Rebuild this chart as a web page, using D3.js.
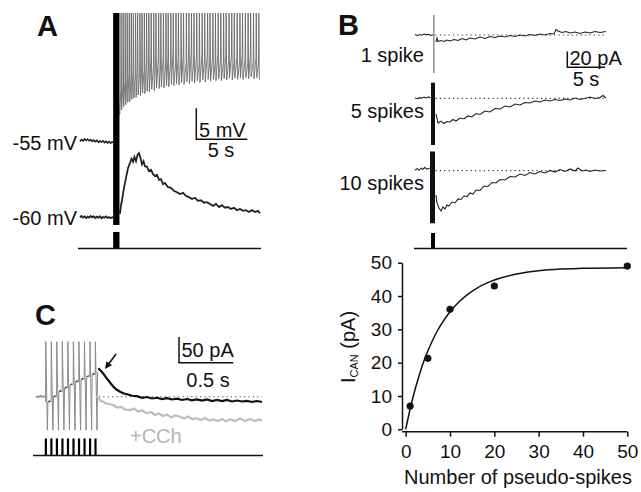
<!DOCTYPE html>
<html>
<head>
<meta charset="utf-8">
<script src="https://cdn.jsdelivr.net/npm/d3@7"></script>
<style>
  body { margin: 0; background: #fff; }
  svg text { font-family: "Liberation Sans", Arial, Helvetica, sans-serif; }
</style>
</head>
<body>
<script>
// ---- panel A : current clamp, time in s, voltage in mV
var aStim = [3.25, 3.87];
var aUpPre = [[0,-54.9],[0.15,-54.6],[0.3,-54.8],[0.45,-54.5],[0.6,-54.75],[0.75,-54.55],[0.9,-54.8],
  [1.05,-54.6],[1.2,-54.9],[1.35,-54.7],[1.5,-54.95],[1.65,-54.75],[1.8,-55.05],[1.95,-54.85],[2.1,-55.0],
  [2.25,-54.8],[2.4,-55.1],[2.55,-54.9],[2.7,-55.15],[2.85,-54.95],[3.0,-55.2],[3.15,-55.0],[3.25,-55.1]];
var aUpStart = [3.9, -50.6];
var aSpikeTop = -34.2;
// spikes: [time, trough after spike, level before spike]
var aUpSpikes = [[4.0,-49.8,-46.5],[4.2,-49.3,-46.0],[4.4,-49.0,-45.2],[4.6,-48.6,-44.8],[4.8,-48.5,-44.0],
  [5.0,-48.1,-44.5],[5.2,-47.9,-43.5],[5.42,-47.8,-44.0],[5.62,-47.4,-43.0],[5.85,-47.5,-43.8],[6.05,-47.1,-42.6],
  [6.28,-47.2,-43.5],[6.5,-46.8,-42.2],[6.72,-46.9,-43.0],[6.95,-46.5,-41.8],[7.2,-46.7,-42.8],[7.42,-46.3,-42.0],
  [7.68,-46.4,-41.5],[7.9,-46.1,-42.6],[8.15,-46.3,-41.2],[8.4,-45.9,-42.4],[8.62,-46.1,-41.6],[8.88,-45.7,-42.0],
  [9.12,-45.9,-40.8],[9.38,-45.6,-42.2],[9.62,-45.8,-41.4],[9.88,-45.4,-42.0],[10.12,-45.7,-41.0],[10.4,-45.3,-42.3],
  [10.65,-45.6,-41.5],[10.9,-45.2,-40.6],[11.15,-45.5,-42.0],[11.42,-45.1,-41.2],[11.68,-45.4,-42.4],[11.95,-45.0,-41.0],
  [12.2,-45.3,-41.8],[12.48,-44.9,-40.7],[12.72,-45.2,-42.0],[13.0,-44.9,-41.3],[13.25,-45.1,-42.2],[13.52,-44.8,-40.9],
  [13.78,-45.1,-41.7],[14.05,-44.8,-42.3],[14.3,-45.0,-41.0],[14.58,-44.7,-41.9],[14.85,-45.0,-40.8],[15.1,-44.7,-42.1],
  [15.38,-44.9,-41.4],[15.65,-44.6,-42.0],[15.9,-44.9,-40.9],[16.18,-44.6,-41.8],[16.45,-44.8,-42.4],[16.7,-44.5,-41.2],
  [16.98,-44.8,-42.0],[17.25,-44.6,-41.5],[17.5,-44.9,-42.2]];
var aUpEnd = [17.65, -45.0];
var aLowPre = [[0,-60.05],[0.15,-59.85],[0.3,-60.1],[0.45,-59.9],[0.6,-60.15],[0.75,-59.95],[0.9,-60.1],
  [1.05,-59.85],[1.2,-60.05],[1.35,-59.9],[1.5,-60.15],[1.65,-59.95],[1.8,-60.1],[1.95,-59.9],[2.1,-60.2],
  [2.25,-60.0],[2.4,-60.1],[2.55,-59.9],[2.7,-60.15],[2.85,-60.0],[3.0,-60.2],[3.15,-60.05],[3.25,-60.1]];
var aLowPost = [[3.92,-59.5],[4.02,-58.1],[4.12,-57.3],[4.31,-55.3],[4.51,-53.7],[4.71,-52.1],[4.9,-51.3],
  [5.05,-50.6],[5.2,-51.1],[5.34,-50.3],[5.49,-51.0],[5.64,-50.0],[5.78,-49.7],[5.93,-50.5],[6.08,-51.5],
  [6.23,-51.0],[6.37,-51.8],[6.57,-51.9],[6.76,-52.6],[6.96,-52.4],[7.16,-53.1],[7.35,-53.4],[7.55,-53.2],
  [7.75,-54.0],[7.94,-53.9],[8.14,-54.7],[8.33,-54.5],[8.63,-55.2],[8.92,-55.3],[9.22,-55.8],[9.51,-56.0],
  [9.8,-56.3],[10.1,-56.1],[10.39,-56.6],[10.69,-56.8],[10.98,-57.1],[11.27,-56.9],[11.57,-57.4],[11.86,-57.3],
  [12.16,-57.7],[12.45,-57.6],[12.75,-57.9],[13.04,-58.2],[13.33,-57.9],[13.63,-58.4],[13.92,-58.1],[14.22,-58.5],
  [14.51,-58.4],[14.8,-58.7],[15.1,-58.5],[15.39,-58.9],[15.69,-58.7],[15.98,-59.0],[16.27,-58.9],[16.57,-59.2],
  [16.86,-58.9],[17.16,-59.2],[17.45,-59.0],[17.65,-59.4]];

// ---- panel B : voltage clamp, time in s, current in pA (relative to baseline)
var bLabels = ['1 spike', '5 spikes', '10 spikes'];
var bStim = [[2.5, 2.5], [2.12, 2.65], [1.99, 2.65]];
var bStimRange = [[25.5, -48.4], [19.9, -59.5], [24.5, -67]];
var b1Pre = [[0,0.5],[0.3,-0.8],[0.6,0.6],[0.9,-0.3],[1.2,1.2],[1.5,0.2],[1.8,1.0],[2.1,-0.5],[2.4,0.4]];
var b1Post = [[2.78,-8.9],[2.91,-3.8],[3.05,-8.3],[3.44,-7.0],[3.84,-8.3],[4.24,-6.4],[4.64,-7.6],[5.17,-5.7],
  [5.7,-7.0],[6.23,-4.5],[6.75,-6.4],[7.28,-3.8],[7.95,-5.1],[8.61,-2.5],[9.27,-4.5],[9.93,-1.9],[10.6,-3.2],
  [11.26,-1.3],[11.92,-2.5],[12.58,-0.6],[13.25,-1.9],[13.91,0],[14.57,-1.3],[15.23,0.6],[15.89,-0.6],[16.56,1.3],
  [17.22,0],[17.88,1.9],[18.41,1.3],[18.68,7.0],[18.94,5.1],[19.47,3.2],[20.0,4.5],[20.53,2.5],[21.19,3.8],
  [21.85,1.9],[22.52,3.8],[23.18,2.5],[23.84,4.5],[24.5,3.2],[25.3,4.5]];
var b2Pre = [[0,0.4],[0.3,-0.6],[0.6,0.8],[0.9,0.2],[1.2,1.5],[1.5,0.5],[1.8,1.8],[2.1,0.3]];
var b2Post = [[2.78,-20],[3.05,-31.5],[3.44,-29],[3.84,-32.1],[4.24,-29.6],[4.64,-30.2],[5.03,-27.0],[5.43,-28.9],
  [5.96,-25.1],[6.49,-26.4],[7.02,-22.5],[7.55,-23.8],[8.08,-19.4],[8.61,-20.6],[9.27,-16.2],[9.93,-17.5],
  [10.6,-13.0],[11.26,-13.6],[11.92,-9.8],[12.58,-11.1],[13.25,-7.3],[13.91,-8.5],[14.57,-5.4],[15.23,-6.0],
  [15.89,-3.4],[16.56,-4.7],[17.22,-2.2],[17.88,-3.4],[18.54,-1.5],[19.21,-2.8],[19.87,-0.9],[20.53,-2.2],
  [21.19,0.4],[21.85,-1.5],[22.52,-0.3],[23.18,1.7],[23.84,-0.3],[24.5,1.0],[24.9,3.6],[25.3,0.4]];
var b3Pre = [[0,1.0],[0.3,2.5],[0.5,0.5],[0.8,3.5],[1.0,1.5],[1.3,4.0],[1.6,2.0],[1.95,3.0]];
var b3Post = [[2.78,-31],[2.91,-41],[3.18,-47.5],[3.44,-51.3],[3.71,-46.2],[3.97,-48.8],[4.24,-43.7],[4.5,-45],
  [4.9,-39.9],[5.3,-41.1],[5.7,-36.0],[6.09,-36.7],[6.49,-32.2],[6.89,-32.9],[7.28,-28.4],[7.68,-29.7],
  [8.08,-24.6],[8.61,-25.2],[9.14,-19.5],[9.67,-20.1],[10.2,-15.0],[10.73,-15.7],[11.26,-11.2],[11.92,-11.8],
  [12.58,-7.4],[13.25,-8.0],[13.91,-4.2],[14.57,-6.1],[15.23,-2.3],[15.89,-4.2],[16.56,-1.0],[17.22,-2.9],
  [17.88,0.3],[18.54,-1.7],[19.21,1.5],[19.87,-1.0],[20.53,2.2],[21.19,-0.4],[21.59,3.4],[22.12,-0.4],
  [22.65,0.9],[23.18,-1.0],[23.84,0.9],[24.5,-0.4],[25.3,0.3]];
var bEnd = 25.4;

// ---- panel B graph : I_CAN vs number of pseudo-spikes
var nSpikes = [1, 5, 10, 20, 50];
var iCan = [7, 21.3, 36, 43, 49];
var fitN = [0, 1, 2, 3, 4, 5, 6, 7, 8, 10, 12, 14, 16, 18, 20, 25, 30, 35, 40, 50];
var fitI = [0, 6.1, 11.4, 16, 20.1, 23.5, 26.5, 29.2, 31.5, 35.3, 38.2, 40.5, 42.3, 43.7, 44.8, 46.6, 47.6, 48.1, 48.3, 48.5];
var gTicks = [0, 10, 20, 30, 40, 50];

// ---- panel C : time in s, current in pA
var cSpikes = [0.090, 0.141, 0.192, 0.243, 0.294, 0.345, 0.396, 0.447, 0.498, 0.548];
var cSpikeRange = [107, -65];
var cRamp = [-10, 0, 10, 17, 23, 29, 34, 39, 43.5, 48.6];
var cPre = [[0,0.5],[0.02,-1],[0.04,1.5],[0.06,-0.5],[0.085,1]];
var cCtrl = [[0.575,55.3],[0.586,52.9],[0.606,48.6],[0.627,43.2],[0.652,35.8],[0.683,27.6],[0.713,19.5],
  [0.743,14.0],[0.775,9.7],[0.812,6.2],[0.849,4.3],[0.886,1.8],[0.932,1.0],[0.978,-2.1],[1.024,-0.6],
  [1.07,-3.5],[1.116,-2.1],[1.162,-4.5],[1.208,-2.9],[1.255,-5.4],[1.301,-3.7],[1.347,-6.4],[1.393,-4.5],
  [1.439,-7.0],[1.485,-5.1],[1.531,-7.4],[1.577,-5.4],[1.624,-8.4],[1.67,-6.4],[1.716,-8.4],[1.762,-6.4],
  [1.808,-9.3],[1.854,-7.4],[1.9,-9.3],[1.946,-8.0],[1.993,-10.3],[2.039,-8.4],[2.085,-10.3]];
var cCCh = [[0.558,1.4],[0.575,-3.1],[0.6,-8.4],[0.621,-9.7],[0.646,-13.2],[0.673,-14.2],[0.713,-16.1],
  [0.747,-21.0],[0.784,-20.0],[0.821,-24.9],[0.867,-25.9],[0.904,-23.0],[0.941,-28.8],[0.978,-26.8],
  [1.021,-32.3],[1.061,-29.8],[1.098,-35.6],[1.135,-32.7],[1.172,-37.5],[1.208,-34.6],[1.245,-40.5],
  [1.282,-36.6],[1.328,-38.9],[1.365,-42.4],[1.402,-38.5],[1.439,-43.4],[1.482,-42.0],[1.522,-45.3],
  [1.559,-41.4],[1.596,-46.3],[1.636,-44.0],[1.679,-47.3],[1.716,-43.4],[1.753,-48.2],[1.79,-44.0],
  [1.836,-47.3],[1.882,-42.4],[1.928,-47.3],[1.974,-43.4],[2.02,-47.3],[2.057,-44.4],[2.085,-46.3]];
var cArrow = [[0.738, 83], [0.637, 54]];

var svg = d3.select('body').append('svg')
  .attr('width', 641)
  .attr('height', 492);

var lineFn = function(xs, ys) {
  return d3.line()
    .x(function(d) { return xs(d[0]); })
    .y(function(d) { return ys(d[1]); });
};

var addText = function(x, y, txt, size, opts) {
  opts = opts || {};
  return svg.append('text')
    .attr('x', x).attr('y', y)
    .attr('font-size', size)
    .attr('font-weight', opts.bold ? 'bold' : 'normal')
    .attr('text-anchor', opts.anchor || 'start')
    .attr('fill', opts.fill || '#111')
    .text(txt);
};

var scaleBar = function(x0, y0, w, h, t1, t2, t1x, t1y, t2x, t2y) {
  svg.append('path')
    .attr('d', 'M' + x0 + ',' + (y0 - h) + 'V' + y0 + 'H' + (x0 + w))
    .attr('fill', 'none').attr('stroke', '#111').attr('stroke-width', 1.5);
  addText(t1x, t1y, t1, 20);
  addText(t2x, t2y, t2, 20, {anchor: 'middle'});
};

// ================= Panel A
var xA = d3.scaleLinear().domain([0, 5]).range([80, 131]);
var yUp = d3.scaleLinear().domain([-55, -50]).range([142, 111]);
var yLow = d3.scaleLinear().domain([-60, -55]).range([217, 186]);

var upPts = [aUpStart];
aUpSpikes.forEach(function(s) {
  upPts.push([s[0], s[2]]);
  upPts.push([s[0] + 0.03, aSpikeTop]);
  upPts.push([s[0] + 0.08, s[1]]);
});
upPts.push(aUpEnd);

svg.append('path').attr('d', lineFn(xA, yUp)(upPts))
  .attr('fill', 'none').attr('stroke', '#6a6a6a').attr('stroke-width', 0.9);
svg.append('path').attr('d', lineFn(xA, yUp)(aUpPre))
  .attr('fill', 'none').attr('stroke', '#222').attr('stroke-width', 1.6);
svg.append('path').attr('d', lineFn(xA, yLow)(aLowPre))
  .attr('fill', 'none').attr('stroke', '#222').attr('stroke-width', 1.8);
svg.append('path').attr('d', lineFn(xA, yLow)(aLowPost))
  .attr('fill', 'none').attr('stroke', '#222').attr('stroke-width', 1.8);

svg.append('rect')
  .attr('x', xA(aStim[0])).attr('width', xA(aStim[1]) - xA(aStim[0]))
  .attr('y', 13).attr('height', 212).attr('fill', '#000');
svg.append('rect')
  .attr('x', xA(aStim[0])).attr('width', xA(aStim[1]) - xA(aStim[0]))
  .attr('y', 232).attr('height', 16).attr('fill', '#000');
svg.append('line')
  .attr('x1', 78).attr('x2', 261).attr('y1', 248.5).attr('y2', 248.5)
  .attr('stroke', '#111').attr('stroke-width', 1.5);

addText(37, 36, 'A', 29, {bold: true});
addText(77, 150, '-55 mV', 20, {anchor: 'end'});
addText(77, 225, '-60 mV', 20, {anchor: 'end'});
scaleBar(196.3, 139.3, xA(5) - xA(0), yUp(-55) - yUp(-50), '5 mV', '5 s', 199, 137, 221, 157);

// ================= Panel B traces
var xB = d3.scaleLinear().domain([0, 5]).range([415, 452.75]);
var bBase = [35, 98.3, 170.7];
var bPre = [b1Pre, b2Pre, b3Pre];
var bPost = [b1Post, b2Post, b3Post];

bBase.forEach(function(base, i) {
  var yB = d3.scaleLinear().domain([0, -20]).range([base, base + 15.7]);
  svg.append('line')
    .attr('x1', xB(2.7)).attr('x2', xB(bEnd))
    .attr('y1', yB(0)).attr('y2', yB(0))
    .attr('stroke', '#333').attr('stroke-width', 1.2)
    .attr('stroke-dasharray', '1.2,3.2');
  svg.append('path').attr('d', lineFn(xB, yB)(bPre[i]))
    .attr('fill', 'none').attr('stroke', '#222').attr('stroke-width', 1.1);
  svg.append('path').attr('d', lineFn(xB, yB)(bPost[i]))
    .attr('fill', 'none').attr('stroke', '#222').attr('stroke-width', 1.1);
  var s = bStim[i];
  var r = bStimRange[i];
  if (s[1] - s[0] < 0.1) {
    svg.append('line')
      .attr('x1', xB(s[0])).attr('x2', xB(s[0]))
      .attr('y1', yB(r[0])).attr('y2', yB(r[1]))
      .attr('stroke', '#555').attr('stroke-width', 1);
  } else {
    svg.append('rect')
      .attr('x', xB(s[0])).attr('width', xB(s[1]) - xB(s[0]))
      .attr('y', yB(r[0])).attr('height', yB(r[1]) - yB(r[0]))
      .attr('fill', '#111');
  }
  addText(424, [62, 118, 190][i], bLabels[i], 20, {anchor: 'end'});
});

svg.append('rect')
  .attr('x', xB(2.12)).attr('width', xB(2.65) - xB(2.12))
  .attr('y', 233).attr('height', 15).attr('fill', '#000');
svg.append('line')
  .attr('x1', 414).attr('x2', 627).attr('y1', 248.5).attr('y2', 248.5)
  .attr('stroke', '#111').attr('stroke-width', 1.5);

addText(338, 35, 'B', 29, {bold: true});
scaleBar(567.3, 67.3, xB(5) - xB(0), 15.7, '20 pA', '5 s', 569.5, 65, 586, 85.5);

// ================= Panel B graph
var xG = d3.scaleLinear().domain([0, 50]).range([405.7, 627.3]);
var yG = d3.scaleLinear().domain([0, 50]).range([429.3, 262.7]);

var gy = svg.append('g').attr('transform', 'translate(402,0)')
  .call(d3.axisLeft(yG).tickValues(gTicks).tickSize(4).tickSizeOuter(0).tickPadding(6));
var gx = svg.append('g').attr('transform', 'translate(0,431.7)')
  .call(d3.axisBottom(xG).tickValues(gTicks).tickSize(5).tickSizeOuter(0).tickPadding(8));
gx.select('.domain').attr('d', 'M402,0H' + xG(50));
[gx, gy].forEach(function(g) {
  g.selectAll('path, line').attr('stroke', '#111').attr('stroke-width', 1.5);
  g.selectAll('text').attr('font-size', 19).attr('fill', '#111')
    .attr('font-family', '"Liberation Sans", Arial, sans-serif');
});

svg.append('path')
  .attr('d', d3.line()
    .x(function(d, i) { return xG(d); })
    .y(function(d, i) { return yG(fitI[i]); })
    .curve(d3.curveMonotoneX)(fitN))
  .attr('fill', 'none').attr('stroke', '#111').attr('stroke-width', 1.5);

svg.selectAll('circle.pt').data(nSpikes).enter()
  .append('circle').attr('class', 'pt')
  .attr('cx', function(d) { return xG(d); })
  .attr('cy', function(d, i) { return yG(iCan[i]); })
  .attr('r', 3.6).attr('fill', '#111');

var yl = svg.append('text')
  .attr('transform', 'translate(355,347) rotate(-90)')
  .attr('text-anchor', 'middle')
  .attr('font-size', 20).attr('fill', '#111');
yl.append('tspan').text('I');
yl.append('tspan').attr('font-size', 11).attr('dy', 3).text('CAN');
yl.append('tspan').attr('dy', -3).text(' (pA)');

addText(518, 484, 'Number of pseudo-spikes', 20, {anchor: 'middle'});

// ================= Panel C
var xC = d3.scaleLinear().domain([0, 0.5]).range([36, 90.2]);
var yC = d3.scaleLinear().domain([0, 50]).range([396.7, 371]);

svg.append('line')
  .attr('x1', xC(0.58)).attr('x2', xC(2.085))
  .attr('y1', yC(0)).attr('y2', yC(0))
  .attr('stroke', '#444').attr('stroke-width', 1.1)
  .attr('stroke-dasharray', '1.2,3.2');

svg.append('path').attr('d', lineFn(xC, yC)(cPre))
  .attr('fill', 'none').attr('stroke', '#999').attr('stroke-width', 2);

var spPts = [];
cSpikes.forEach(function(t, i) {
  spPts.push([t - 0.002, cRamp[Math.max(i - 1, 0)]]);
  spPts.push([t, cSpikeRange[0]]);
  spPts.push([t + 0.015, cSpikeRange[1]]);
  spPts.push([t + 0.02, cRamp[i]]);
});
svg.append('path').attr('d', lineFn(xC, yC)(spPts))
  .attr('fill', 'none').attr('stroke', '#8a8a8a').attr('stroke-width', 1);

cSpikes.forEach(function(t, i) {
  if (i === 0) return;
  svg.append('line')
    .attr('x1', xC(cSpikes[i - 1] + 0.024)).attr('x2', xC(t - 0.004))
    .attr('y1', yC(cRamp[i - 1])).attr('y2', yC(cRamp[i - 1] + 4))
    .attr('stroke', '#333').attr('stroke-width', 1.2)
    .attr('stroke-dasharray', '2,1.5');
});

svg.append('path').attr('d', lineFn(xC, yC)(cCCh))
  .attr('fill', 'none').attr('stroke', '#bdbdbd').attr('stroke-width', 2.2);
svg.append('path').attr('d', lineFn(xC, yC)(cCtrl))
  .attr('fill', 'none').attr('stroke', '#111').attr('stroke-width', 2.2);

// arrow
var ax0 = xC(cArrow[0][0]), ay0 = yC(cArrow[0][1]);
var ax1 = xC(cArrow[1][0]), ay1 = yC(cArrow[1][1]);
var len = Math.sqrt((ax1 - ax0) * (ax1 - ax0) + (ay1 - ay0) * (ay1 - ay0));
var ux = (ax1 - ax0) / len, uy = (ay1 - ay0) / len;
svg.append('line')
  .attr('x1', ax0).attr('y1', ay0)
  .attr('x2', ax1 - ux * 5).attr('y2', ay1 - uy * 5)
  .attr('stroke', '#111').attr('stroke-width', 1.6);
svg.append('path')
  .attr('d', 'M' + ax1 + ',' + ay1 +
    'L' + (ax1 - ux * 7 - uy * 3.5) + ',' + (ay1 - uy * 7 + ux * 3.5) +
    'L' + (ax1 - ux * 7 + uy * 3.5) + ',' + (ay1 - uy * 7 - ux * 3.5) + 'Z')
  .attr('fill', '#111');

svg.selectAll('rect.pulse').data(cSpikes).enter()
  .append('rect').attr('class', 'pulse')
  .attr('x', function(d) { return xC(d) - 1; })
  .attr('width', 2.2)
  .attr('y', 438.5).attr('height', 17)
  .attr('fill', '#000');
svg.append('line')
  .attr('x1', 33).attr('x2', 263).attr('y1', 455.5).attr('y2', 455.5)
  .attr('stroke', '#111').attr('stroke-width', 1.5);

addText(35, 325, 'C', 29, {bold: true});
addText(130, 443, '+CCh', 20, {fill: '#b5b5b5'});
scaleBar(179, 362.7, xC(0.5) - xC(0), yC(0) - yC(50), '50 pA', '0.5 s', 181.5, 357, 208, 387);
</script>
</body>
</html>
